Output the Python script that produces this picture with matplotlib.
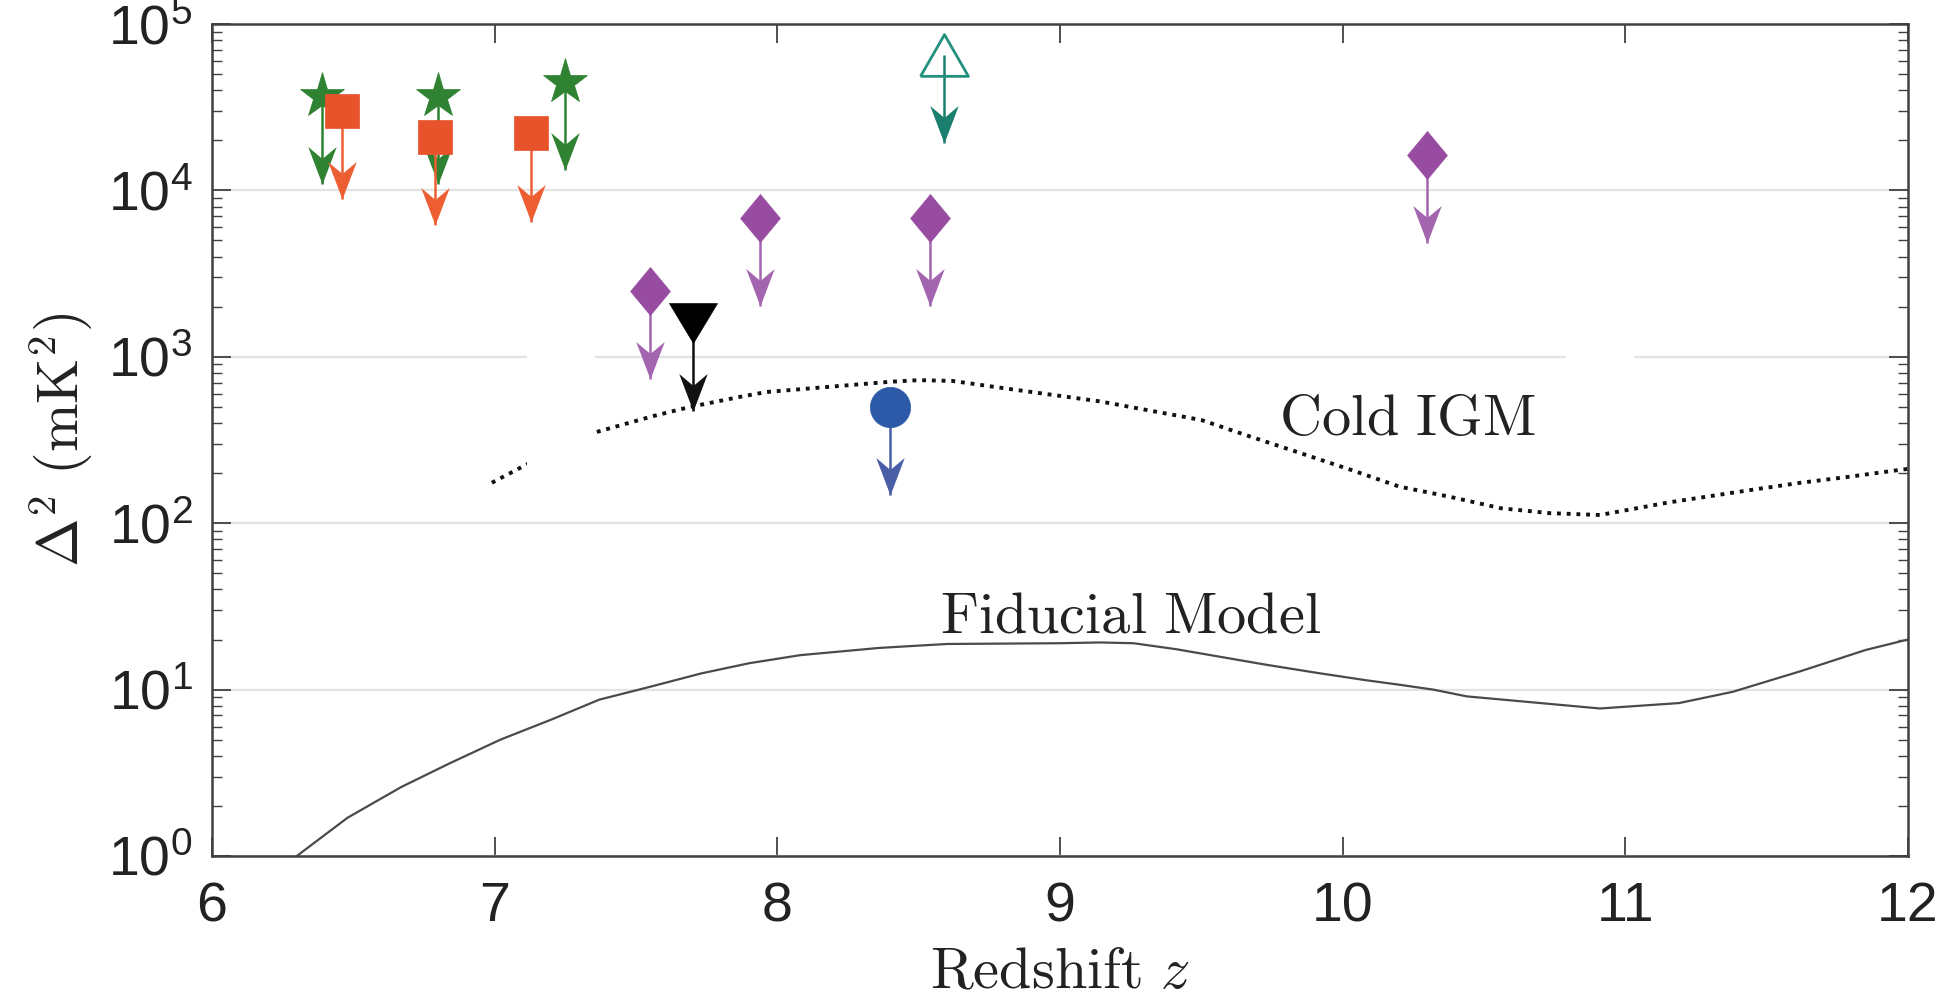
import numpy as np
import matplotlib.pyplot as plt
from matplotlib.patches import Rectangle

# 各観測の上限値 (赤方偏移 z, Δ^2 [mK^2])
star_z = [6.39, 6.80, 7.25]
star_val = [3.7e4, 3.7e4, 4.5e4]

square_z = [6.46, 6.79, 7.13]
square_val = [3.0e4, 2.1e4, 2.2e4]

diamond_z = [7.55, 7.94, 8.54, 10.30]
diamond_val = [2.5e3, 6.8e3, 6.8e3, 1.63e4]

tri_down_z = [7.70]
tri_down_val = [1.6e3]

circle_z = [8.40]
circle_val = [5.0e2]

tri_up_z = [8.59]
tri_up_val = [6.5e4]

# モデル曲線
cold_z = [6.99, 7.11, 7.36, 7.56, 7.69, 7.86, 7.96, 8.15, 8.40, 8.50, 8.62,
          8.80, 9.14, 9.50, 9.67, 9.85, 10.03, 10.20, 10.38, 10.56, 10.73,
          10.91, 11.15, 11.26, 11.44, 11.62, 11.79, 11.97, 12.00]
cold_val = [175, 224, 353, 440, 499, 571, 614, 653, 708, 724, 716,
            648, 540, 417, 333, 264, 209, 166, 144, 123, 115,
            112, 133, 142, 158, 175, 190, 209, 212]

fid_z = [6.30, 6.48, 6.67, 6.84, 7.02, 7.20, 7.37, 7.55, 7.73, 7.90,
         8.08, 8.36, 8.60, 9.00, 9.14, 9.26, 9.41, 9.73, 9.91, 10.08, 10.20,
         10.32, 10.44, 10.60, 10.91, 11.19, 11.38, 11.62, 11.85, 12.00]
fid_val = [1.0, 1.7, 2.6, 3.6, 5.0, 6.6, 8.7, 10.4, 12.5, 14.4,
           16.1, 17.8, 18.8, 19.0, 19.2, 19.0, 17.5, 14.1, 12.6, 11.4, 10.7,
           10.0, 9.1, 8.6, 7.7, 8.3, 9.7, 12.9, 17.3, 20.0]

x_ticks = [6, 7, 8, 9, 10, 11, 12]
y_ticks = [1e0, 1e1, 1e2, 1e3, 1e4, 1e5]

# 矢印の長さ (桁数)
ARROW_DEX = 0.53

# マーカー形状 (矢じりは先端が原点)
HEAD = [(0, 0), (0.38, 1), (0, 0.68), (-0.38, 1), (0, 0)]
DIAMOND = [(0, 1), (0.83, 0), (0, -1), (-0.83, 0), (0, 1)]
TRI_DOWN = [(-1, 0.83), (1, 0.83), (0, -0.83), (-1, 0.83)]
TRI_UP = [(-1, -0.87), (1, -0.87), (0, 0.87), (-1, -0.87)]


def draw_limits(ax, z, val, marker, size, color, arrow_color, zorder, filled=True):
    z = np.asarray(z)
    val = np.asarray(val)
    low = val / 10 ** ARROW_DEX
    ax.vlines(z, low, val, color=arrow_color, lw=1.8, zorder=zorder)
    ax.plot(z, low, ls='none', marker=HEAD, ms=54, color=arrow_color,
            mew=0, zorder=zorder)
    ax.plot(z, val, ls='none', marker=marker, ms=size,
            mfc=color if filled else 'none', mec=color,
            mew=2.0 if not filled else 0.5, zorder=zorder + 0.5)


def draw_chart():
    plt.rcParams['font.family'] = ['Liberation Sans', 'DejaVu Sans']
    plt.rcParams['mathtext.fontset'] = 'cm'

    fig = plt.figure(figsize=(19.46, 9.98), dpi=100)
    ax = fig.add_axes([212 / 1946, 1 - 856 / 998, 1696 / 1946, 832 / 998])

    ax.set_yscale('log')
    ax.set_xlim(6, 12)
    ax.set_ylim(1e0, 1e5)

    # 横方向のグリッドのみ
    ax.yaxis.grid(True, which='major', color='#e3e3e3', lw=1.6)
    ax.set_axisbelow(True)

    # モデル曲線
    ax.plot(fid_z, fid_val, color='#4a4a4a', lw=1.6, zorder=2)
    ax.plot(cold_z, cold_val, color='#111111', lw=2.8,
            ls=(0, (1.0, 1.5)), zorder=2)

    # 画像上の白抜き部分
    for z0, z1 in [(7.114, 7.354), (10.79, 11.03)]:
        ax.add_patch(Rectangle((z0, 203), z1 - z0, 1026 - 203,
                               facecolor='white', edgecolor='none', zorder=2.5))

    # 観測の上限値
    draw_limits(ax, star_z, star_val, '*', 34, '#2f8232', '#2f8232', 3)
    draw_limits(ax, square_z, square_val, 's', 24, '#e8532b', '#ee5e33', 4)
    draw_limits(ax, diamond_z, diamond_val, DIAMOND, 34.5, '#974ca1', '#a465b0', 5)
    draw_limits(ax, tri_down_z, tri_down_val, TRI_DOWN, 34.5, '#000000', '#111111', 6)
    draw_limits(ax, circle_z, circle_val, 'o', 29, '#2c5aa8', '#4a5ea8', 7)
    draw_limits(ax, tri_up_z, tri_up_val, TRI_UP, 34.5, '#23907e', '#1a7f6e', 8,
                filled=False)

    # 曲線のラベル
    ax.text(10.23, 10 ** 2.53, r'$\mathrm{Cold\ IGM}$', fontsize=42,
            ha='center', va='baseline', color='#222222', zorder=9)
    ax.text(9.25, 10 ** 1.346, r'$\mathrm{Fiducial\ Model}$', fontsize=42,
            ha='center', va='baseline', color='#222222', zorder=9)

    # 軸の設定
    ax.set_xticks(x_ticks)
    ax.set_yticks(y_ticks)
    ax.tick_params(which='both', direction='in', top=True, right=True,
                   colors='#404040', labelcolor='#222222')
    ax.tick_params(which='major', length=14, width=1.3, labelsize=40)
    ax.tick_params(axis='x', which='major', pad=18)
    ax.tick_params(axis='y', which='major', pad=14)
    ax.tick_params(which='minor', length=7, width=1.0)
    for s in ax.spines.values():
        s.set_color('#404040')
        s.set_linewidth(1.8)

    ax.set_xlabel(r'$\mathrm{Redshift}\ z$', fontsize=42, color='#222222',
                  labelpad=10)
    ax.set_ylabel(r'$\Delta^2\ (\mathrm{mK}^2)$', fontsize=42, color='#222222',
                  labelpad=10)

    fig.savefig('out.png', dpi=100)


if __name__ == '__main__':
    draw_chart()
